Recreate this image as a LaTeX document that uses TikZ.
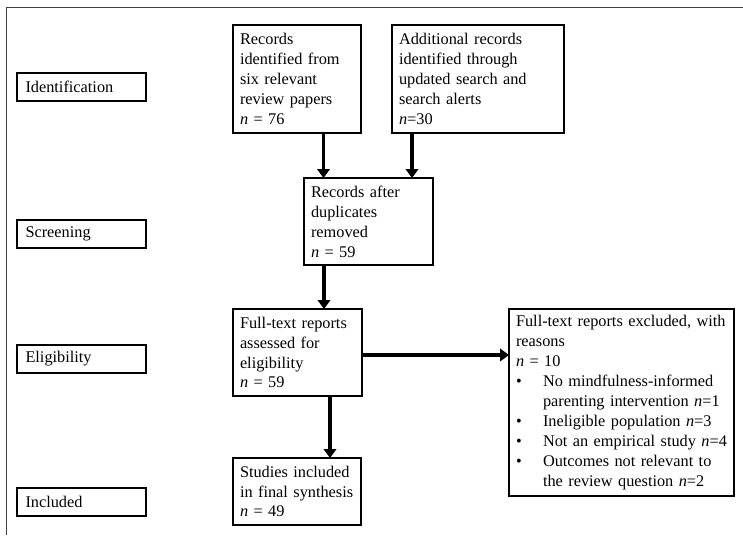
\documentclass[tikz,border=0pt]{standalone}
\usepackage{fontspec}
\setmainfont{Liberation Serif}
\usetikzlibrary{arrows.meta}
\begin{document}
\begin{tikzpicture}[x=1pt,y=-1pt,
  every node/.style={font=\fontsize{16.3}{19.9}\selectfont},
  flowbox/.style={draw, line width=2.8pt, outer sep=0pt, anchor=north west, align=left, inner xsep=7pt, inner ysep=0pt},
  stagebox/.style={draw, line width=2.8pt, outer sep=0pt, anchor=north west, align=left, inner xsep=8.5pt, inner ysep=0pt, text width=112pt, minimum height=28pt},
  arr/.style={line width=3.8pt, -{Triangle[width=12.5pt,length=9pt]}},
  frameline/.style={draw=black!75, line width=1pt}]
\useasboundingbox (0,0) rectangle (743,535);
\draw[frameline] (6.5,535) -- (6.5,8) -- (743,8);

% stage labels
\node[stagebox] (ident) at (17,73) {Identification};
\node[stagebox] (screen) at (17,220) {Screening};
\node[stagebox] (elig) at (17,345) {Eligibility};
\node[stagebox] (incl) at (17,488) {Included};

% flow boxes
\node[flowbox, text width=114pt, minimum height=108pt] (A) at (233,25)
  {Records\\identified from\\six relevant\\review papers\\\textit{n} = 76};
\node[flowbox, text width=158pt, minimum height=108pt] (B) at (392,25)
  {Additional records\\identified through\\updated search and\\search alerts\\\textit{n}=30};
\node[flowbox, text width=115pt, minimum height=87pt] (C) at (304,178)
  {Records after\\duplicates\\removed\\\textit{n} = 59};
\node[flowbox, text width=115pt, minimum height=87pt] (D) at (233,309)
  {Full-text reports\\assessed for\\eligibility\\\textit{n} = 59};
\node[flowbox, text width=211pt, minimum height=187pt] (E) at (509,309)
  {\mbox{Full-text reports excluded, with}\\reasons\\\textit{n} = 10\\
   \makebox[27pt][l]{\textbullet}\mbox{No mindfulness-informed}\\
   \hspace*{27pt}\mbox{parenting intervention \textit{n}=1}\\
   \makebox[27pt][l]{\textbullet}\mbox{Ineligible population \textit{n}=3}\\
   \makebox[27pt][l]{\textbullet}\mbox{Not an empirical study \textit{n}=4}\\
   \makebox[27pt][l]{\textbullet}\mbox{Outcomes not relevant to}\\
   \hspace*{27pt}\mbox{the review question \textit{n}=2}};
\node[flowbox, text width=114pt, minimum height=67pt] (F) at (233,458)
  {Studies included\\in final synthesis\\\textit{n} = 49};

% connectors
\draw[arr] ([xshift=26.5pt]A.south) -- ([xshift=26.5pt]A.south |- C.north);
\draw[arr] ([xshift=-66pt]B.south) -- ([xshift=-66pt]B.south |- C.north);
\draw[arr] ([xshift=-44.5pt]C.south) -- ([xshift=-44.5pt]C.south |- D.north);
\draw[arr] ([yshift=-2.5pt]D.east) -- ([yshift=-2.5pt]D.east -| E.west);
\draw[arr] ([xshift=32.5pt]D.south) -- ([xshift=32.5pt]D.south |- F.north);
\end{tikzpicture}
\end{document}
